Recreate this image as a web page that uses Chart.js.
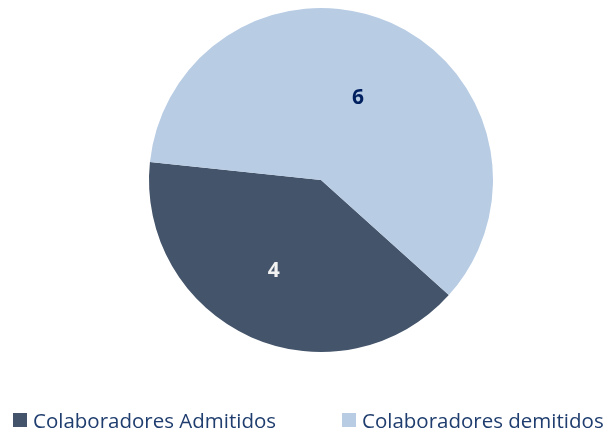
<!DOCTYPE html>
<html>
<head>
<meta charset="utf-8">
<script src="https://cdn.jsdelivr.net/npm/chart.js@4"></script>
<style>
  html, body { margin: 0; padding: 0; background: #fff; }
  #wrap { position: relative; width: 606px; height: 435px; }
  #legend { position: absolute; top: 406px; left: 0; width: 606px; height: 29px;
            font-family: "Open Sans", sans-serif; font-size: 20.5px; color: #1F3D6E; }
  .item { position: absolute; top: 0; display: flex; align-items: center; white-space: nowrap; line-height: 28px; }
  .box { width: 14px; height: 14px; margin-right: 6px; }
</style>
</head>
<body>
<div id="wrap">
  <canvas id="chart" width="606" height="435"></canvas>
  <div id="legend"></div>
</div>
<script>
// Data
const categories = ['Colaboradores Admitidos', 'Colaboradores demitidos'];
const values = [4, 6];
const colors = ['#44546A', '#B8CCE4'];
const labelColors = ['#F2F2F2', '#002060'];
const labelRadius = [0.59, 0.53];
const labelAngleNudge = [3.8, 0];
const legendLeft = [13, 342];

// Value labels inside slices
const sliceLabels = {
    id: 'sliceLabels',
    afterDatasetsDraw(chart) {
        const ctx = chart.ctx;
        const meta = chart.getDatasetMeta(0);
        ctx.save();
        ctx.font = 'bold 21px "Open Sans", sans-serif';
        ctx.textAlign = 'center';
        ctx.textBaseline = 'middle';
        meta.data.forEach((arc, i) => {
            const { x, y, startAngle, endAngle, outerRadius } = arc.getProps(['x', 'y', 'startAngle', 'endAngle', 'outerRadius'], true);
            const mid = (startAngle + endAngle) / 2 + labelAngleNudge[i] * Math.PI / 180;
            const r = outerRadius * labelRadius[i];
            ctx.fillStyle = labelColors[i];
            ctx.fillText(String(values[i]), x + Math.cos(mid) * r, y + Math.sin(mid) * r + 1);
        });
        ctx.restore();
    }
};

new Chart(document.getElementById('chart').getContext('2d'), {
    type: 'pie',
    data: {
        labels: categories,
        datasets: [{
            data: values,
            backgroundColor: colors,
            borderWidth: 0
        }]
    },
    options: {
        responsive: false,
        animation: false,
        rotation: 132,
        layout: { padding: { left: 149, right: 113, top: 8, bottom: 83 } },
        plugins: {
            legend: { display: false },
            tooltip: { enabled: false }
        }
    },
    plugins: [sliceLabels]
});

// Legend
const legend = document.getElementById('legend');
categories.forEach((name, i) => {
    const item = document.createElement('div');
    item.className = 'item';
    item.style.left = legendLeft[i] + 'px';
    item.innerHTML = '<span class="box" style="background:' + colors[i] + '"></span><span>' + name + '</span>';
    legend.appendChild(item);
});
</script>
</body>
</html>
